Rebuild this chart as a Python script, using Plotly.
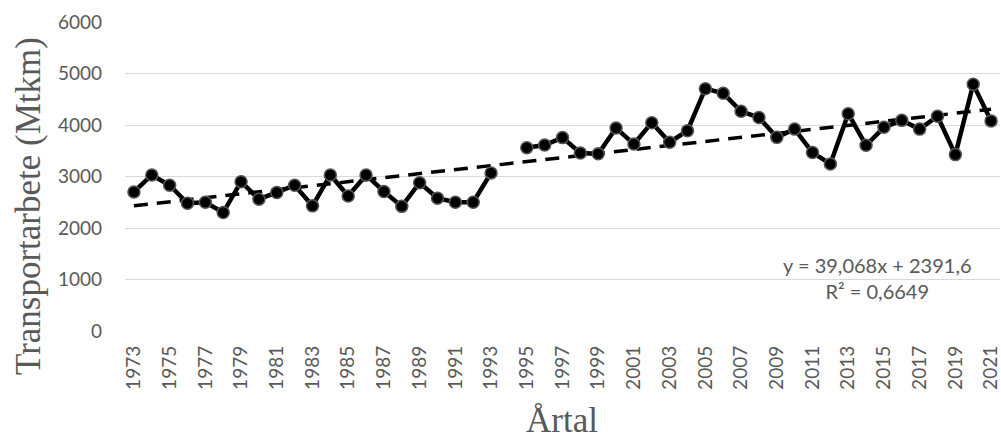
import plotly.graph_objects as go

years = list(range(1973, 2022))
transport = [2700, 3030, 2830, 2480, 2500, 2300, 2900, 2560, 2690, 2830,
             2430, 3030, 2620, 3030, 2710, 2420, 2880, 2580, 2500, 2500,
             3070, None, 3560, 3610, 3755, 3455, 3440, 3940, 3630, 4045,
             3665, 3890, 4705, 4615, 4265, 4145, 3760, 3920, 3465, 3245,
             4220, 3605, 3955, 4090, 3920, 4170, 3425, 4790, 4080]
tick_years = list(range(1973, 2022, 2))
tick_labels = [str(y) for y in tick_years]
y_ticks = [0, 1000, 2000, 3000, 4000, 5000, 6000]
slope = 39.068
intercept = 2391.6
eq_text = "y = 39,068x + 2391,6"
r2_text = "R² = 0,6649"

trend = [slope * (i + 1) + intercept for i in range(len(years))]

GRAY = "#595959"
fig = go.Figure()
fig.add_trace(go.Scatter(
    x=years, y=trend, mode="lines",
    line=dict(color="black", width=3.5, dash="14px,9px"),
    hoverinfo="skip", showlegend=False))
fig.add_trace(go.Scatter(
    x=years, y=transport, mode="lines+markers", connectgaps=False,
    line=dict(color="black", width=4.5),
    marker=dict(size=12, color="black", line=dict(color="#555555", width=1.5)),
    showlegend=False))

fig.update_layout(
    width=1001, height=441,
    margin=dict(l=125, r=1, t=22, b=110),
    paper_bgcolor="white", plot_bgcolor="white",
    font=dict(family="Lato", color=GRAY, size=19),
)
fig.update_xaxes(
    range=[1972.5, 2021.5], tickmode="array", tickvals=tick_years,
    ticktext=tick_labels, tickangle=-90, showgrid=False, zeroline=False,
    showline=False, ticks="", ticklabelstandoff=10, ticklabeloverflow="allow",
    tickfont=dict(family="Lato", size=19, color=GRAY))
fig.update_yaxes(
    range=[0, 6000], tickmode="array", tickvals=y_ticks,
    showgrid=True, gridcolor="#d9d9d9", gridwidth=1, zeroline=False,
    showline=False, ticks="", ticklabelstandoff=22,
    tickfont=dict(family="Lato", size=19, color=GRAY))

fig.add_annotation(
    text="Transportarbete (Mtkm)", xref="paper", yref="paper",
    x=(28 - 125) / 875, y=(331 - 206) / 309, xanchor="center", yanchor="middle",
    textangle=-90, showarrow=False,
    font=dict(family="Liberation Serif", size=35, color=GRAY))
fig.add_annotation(
    text="Årtal", xref="paper", yref="paper",
    x=(562 - 125) / 875, y=(331 - 421) / 309, xanchor="center", yanchor="middle",
    showarrow=False,
    font=dict(family="Liberation Serif", size=35, color=GRAY))
fig.add_annotation(
    text=eq_text + "<br>" + r2_text, xref="paper", yref="paper",
    x=(877 - 125) / 875, y=(331 - 278) / 309, xanchor="center", yanchor="middle",
    align="center", showarrow=False,
    font=dict(family="Lato", size=20, color=GRAY))

fig.write_html("out.html")
